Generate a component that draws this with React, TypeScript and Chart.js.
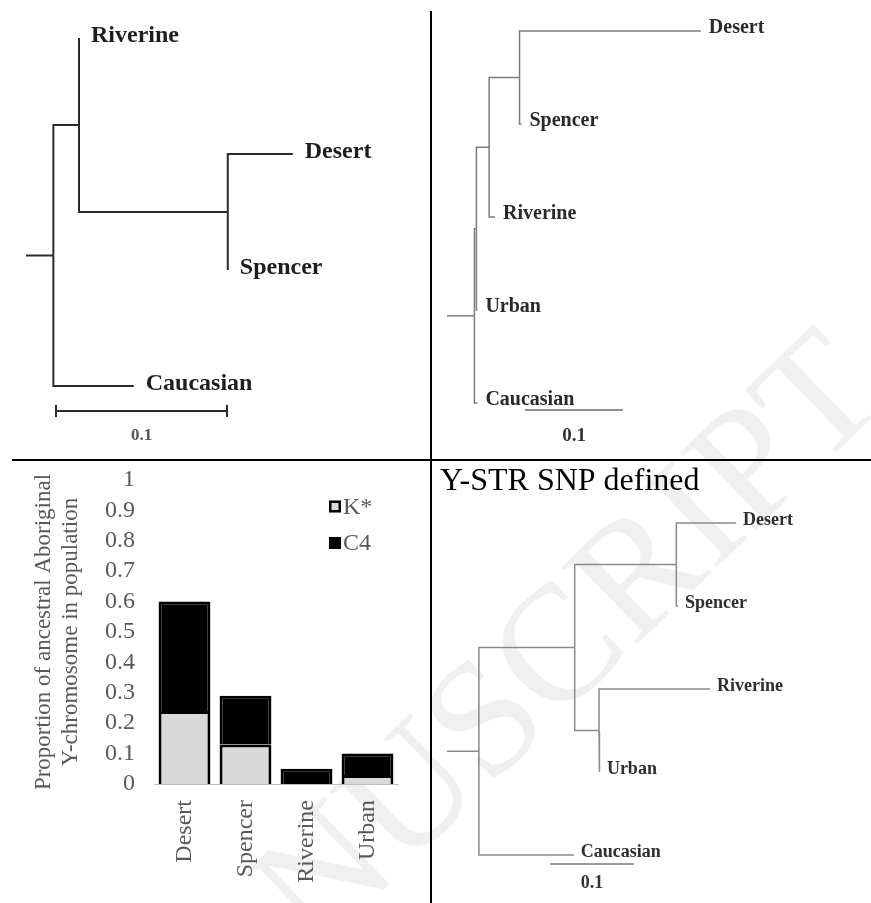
import React, { useEffect, useRef } from 'react';
import { Chart, registerables } from 'chart.js';

Chart.register(...registerables);

const SERIF = "'Liberation Serif', 'Times New Roman', serif";

// ---- Tree data (Newick, branch lengths) ----
const treeMtDNA = "((Riverine:0,(Desert:0.038,Spencer:0):0.087):0.015,Caucasian:0.047):0.016;";
const treeYSTR = "((((Desert:0.185,Spencer:0.002):0.031,Riverine:0.006):0.013,Urban:0.001):0.002,Caucasian:0.003):0.028;";
const treeYSNP = "(((Desert:0.071,Spencer:0.002):0.121,(Riverine:0.132,Urban:0.001):0.029):0.114,Caucasian:0.113):0.038;";
const scaleBarLength = 0.1;
const scaleBarLabel = "0.1";
const panelDTitle = "Y-STR SNP defined";

// ---- Bar chart data ----
const barCategories = ["Desert", "Spencer", "Riverine", "Urban"];
const seriesNames = ["K*", "C4"];
const kStarValues = [0.24, 0.13, 0, 0.03];
const c4Values = [0.36, 0.16, 0.05, 0.07];
const yMin = 0;
const yMax = 1;
const yStep = 0.1;
const yAxisTitle = ["Proportion of ancestral Aboriginal", "Y-chromosome in population"];

const watermarkText = "ACCEPTED MANUSCRIPT";

type TNode = { name: string; len: number; children: TNode[]; x: number; y: number };

function parseNewick(s: string): TNode {
  let i = 0;
  const node = (): TNode => {
    const n: TNode = { name: '', len: 0, children: [], x: 0, y: 0 };
    if (s[i] === '(') {
      i++;
      n.children.push(node());
      while (s[i] === ',') {
        i++;
        n.children.push(node());
      }
      i++;
    }
    let name = '';
    while (i < s.length && !',():;'.includes(s[i])) name += s[i++];
    n.name = name.trim();
    if (s[i] === ':') {
      i++;
      let num = '';
      while (i < s.length && !',();'.includes(s[i])) num += s[i++];
      n.len = parseFloat(num);
    }
    return n;
  };
  return node();
}

function layoutTree(root: TNode) {
  const leaves: TNode[] = [];
  const segs: { x: number; y: number }[][] = [];
  const walk = (n: TNode, px: number) => {
    n.x = px + n.len;
    if (n.children.length === 0) {
      n.y = leaves.length;
      leaves.push(n);
    } else {
      n.children.forEach((c) => walk(c, n.x));
      n.y = (n.children[0].y + n.children[n.children.length - 1].y) / 2;
    }
  };
  walk(root, 0);
  segs.push([{ x: 0, y: root.y }, { x: root.x, y: root.y }]);
  const edges = (n: TNode) => {
    n.children.forEach((c) => {
      segs.push([{ x: n.x, y: n.y }, { x: n.x, y: c.y }, { x: c.x, y: c.y }]);
      edges(c);
    });
  };
  edges(root);
  return { leaves, segs };
}

type TreeProps = {
  newick: string;
  left: number; top: number; width: number; height: number;
  x0: number; ppu: number; y0: number; dy: number;
  lineColor: string; lineWidth: number;
  fontSize: number; labelColor: string; gap: number; labelDy: number;
  barX: number; barY: number; barTicks: boolean; barColor: string; barWidth: number;
  barLabelY: number; barLabelSize: number; barLabelColor: string;
  title?: string;
};

function TreeChart(p: TreeProps) {
  const ref = useRef<HTMLCanvasElement | null>(null);
  useEffect(() => {
    const { leaves, segs } = layoutTree(parseNewick(p.newick));
    const decor = {
      id: 'treeDecor',
      afterDatasetsDraw(chart: any) {
        const { ctx } = chart;
        const xs = chart.scales.x;
        const ys = chart.scales.y;
        ctx.save();
        ctx.font = `bold ${p.fontSize}px ${SERIF}`;
        ctx.fillStyle = p.labelColor;
        ctx.textAlign = 'left';
        ctx.textBaseline = 'middle';
        leaves.forEach((l) => {
          ctx.fillText(l.name, xs.getPixelForValue(l.x) + p.gap, ys.getPixelForValue(l.y) + p.labelDy);
        });
        const len = xs.getPixelForValue(scaleBarLength) - xs.getPixelForValue(0);
        ctx.strokeStyle = p.barColor;
        ctx.lineWidth = p.barWidth;
        ctx.beginPath();
        ctx.moveTo(p.barX, p.barY);
        ctx.lineTo(p.barX + len, p.barY);
        if (p.barTicks) {
          ctx.moveTo(p.barX, p.barY - 6);
          ctx.lineTo(p.barX, p.barY + 6);
          ctx.moveTo(p.barX + len, p.barY - 6);
          ctx.lineTo(p.barX + len, p.barY + 6);
        }
        ctx.stroke();
        ctx.font = `bold ${p.barLabelSize}px ${SERIF}`;
        ctx.fillStyle = p.barLabelColor;
        ctx.textAlign = 'center';
        ctx.fillText(scaleBarLabel, p.barX + len / 2, p.barLabelY);
        if (p.title) {
          ctx.font = `32px ${SERIF}`;
          ctx.fillStyle = '#000';
          ctx.textAlign = 'left';
          ctx.textBaseline = 'alphabetic';
          ctx.fillText(p.title, 8, 29);
        }
        ctx.restore();
      },
    };
    const chart = new Chart(ref.current as HTMLCanvasElement, {
      type: 'scatter',
      data: {
        datasets: segs.map((s) => ({
          data: s,
          showLine: true,
          borderColor: p.lineColor,
          borderWidth: p.lineWidth,
          pointRadius: 0,
          fill: false,
          tension: 0,
          borderJoinStyle: 'miter',
          borderCapStyle: 'butt',
        })) as any,
      },
      options: {
        animation: false,
        responsive: false,
        devicePixelRatio: 1,
        events: [],
        layout: { padding: 0 },
        plugins: { legend: { display: false }, tooltip: { enabled: false } },
        scales: {
          x: { type: 'linear', display: false, bounds: 'data', min: -p.x0 / p.ppu, max: (p.width - p.x0) / p.ppu },
          y: { type: 'linear', display: false, bounds: 'data', reverse: true, min: -p.y0 / p.dy, max: (p.height - p.y0) / p.dy },
        },
      } as any,
      plugins: [decor],
    });
    return () => chart.destroy();
  }, []);
  return (
    <canvas
      ref={ref}
      width={p.width}
      height={p.height}
      style={{ position: 'absolute', left: p.left, top: p.top, width: p.width, height: p.height }}
    />
  );
}

function BarPanel() {
  const ref = useRef<HTMLCanvasElement | null>(null);
  useEffect(() => {
    const legendPlugin = {
      id: 'manualLegend',
      afterDraw(chart: any) {
        const { ctx } = chart;
        ctx.save();
        ctx.font = `24px ${SERIF}`;
        ctx.textBaseline = 'middle';
        ctx.textAlign = 'left';
        const rows = [45.5, 82];
        chart.data.datasets.forEach((ds: any, i: number) => {
          const cy = rows[i];
          ctx.fillStyle = ds.backgroundColor;
          ctx.fillRect(329, cy - 6, 12, 12);
          ctx.strokeStyle = '#000';
          ctx.lineWidth = 2.5;
          ctx.strokeRect(330.25, cy - 4.75, 9.5, 9.5);
          ctx.fillStyle = '#595959';
          ctx.fillText(ds.label, 343, cy + 1);
        });
        ctx.restore();
      },
    };
    const font = { family: SERIF, size: 24 };
    const chart = new Chart(ref.current as HTMLCanvasElement, {
      type: 'bar',
      data: {
        labels: barCategories,
        datasets: [
          { label: seriesNames[0], data: kStarValues, backgroundColor: '#d9d9d9', borderColor: '#000', borderWidth: 3 },
          { label: seriesNames[1], data: c4Values, backgroundColor: '#000', borderColor: '#000', borderWidth: 3 },
        ],
      },
      options: {
        animation: false,
        responsive: false,
        devicePixelRatio: 1,
        events: [],
        layout: { padding: { top: 19, right: 32, left: 0, bottom: 0 } },
        datasets: { bar: { categoryPercentage: 1, barPercentage: 0.85 } },
        plugins: { legend: { display: false }, tooltip: { enabled: false } },
        scales: {
          x: {
            stacked: true,
            grid: { display: false, drawTicks: false },
            border: { display: true, color: '#bfbfbf', width: 1 },
            ticks: { autoSkip: false, minRotation: 90, maxRotation: 90, padding: 16, color: '#595959', font },
            afterFit(s: any) {
              s.height = 119;
              s.paddingLeft = 0;
              s.paddingRight = 0;
            },
          },
          y: {
            stacked: true,
            min: yMin,
            max: yMax,
            grid: { display: false, drawTicks: false },
            border: { display: false },
            ticks: {
              autoSkip: false,
              stepSize: yStep,
              padding: 19,
              color: '#595959',
              font,
              callback: (v: any) => Number(v).toFixed(1).replace(/\.0$/, ''),
            },
            title: { display: true, text: yAxisTitle, color: '#595959', font: { family: SERIF, size: 23 }, padding: { top: 30, bottom: 0 } },
            afterFit(s: any) {
              s.width = 154;
              s.paddingTop = 0;
              s.paddingBottom = 0;
            },
          },
        },
      } as any,
      plugins: [legendPlugin],
    });
    return () => chart.destroy();
  }, []);
  return (
    <canvas ref={ref} width={430} height={442} style={{ position: 'absolute', left: 0, top: 461, width: 430, height: 442 }} />
  );
}

export default function App() {
  return (
    <div style={{ position: 'absolute', left: 0, top: 0, width: 871, height: 903, background: '#fff', overflow: 'hidden' }}>
      <svg width={871} height={903} style={{ position: 'absolute', left: 0, top: 0 }}>
        <text
          x={890}
          y={400}
          textAnchor="end"
          transform="rotate(-44 890 400)"
          fontFamily={SERIF}
          fontSize={165}
          fill="#f0f0f0"
        >
          {watermarkText}
        </text>
      </svg>
      <div style={{ position: 'absolute', left: 430, top: 11, width: 2, height: 892, background: '#000' }} />
      <div style={{ position: 'absolute', left: 12, top: 459, width: 859, height: 2, background: '#000' }} />
      <TreeChart
        newick={treeMtDNA}
        left={0} top={0} width={430} height={459}
        x0={26} ppu={1710} y0={38} dy={116}
        lineColor="#2b2b2b" lineWidth={2}
        fontSize={24} labelColor="#1e1e1e" gap={12} labelDy={-2}
        barX={56} barY={411} barTicks={true} barColor="#2b2b2b" barWidth={2}
        barLabelY={436} barLabelSize={17} barLabelColor="#555"
      />
      <TreeChart
        newick={treeYSTR}
        left={432} top={0} width={439} height={459}
        x0={15} ppu={980} y0={31} dy={93}
        lineColor="#7d7d7d" lineWidth={1.5}
        fontSize={20} labelColor="#2a2a2a" gap={8} labelDy={-3}
        barX={93} barY={410} barTicks={false} barColor="#6e6e6e" barWidth={1.5}
        barLabelY={436} barLabelSize={19} barLabelColor="#333"
      />
      <BarPanel />
      <TreeChart
        newick={treeYSNP}
        left={432} top={461} width={439} height={442}
        x0={15} ppu={840} y0={62} dy={83}
        lineColor="#8a8a8a" lineWidth={1.5}
        fontSize={18} labelColor="#2e2e2e" gap={7} labelDy={-3}
        barX={118} barY={403} barTicks={false} barColor="#7a7a7a" barWidth={1.5}
        barLabelY={422} barLabelSize={18} barLabelColor="#333"
        title={panelDTitle}
      />
    </div>
  );
}
